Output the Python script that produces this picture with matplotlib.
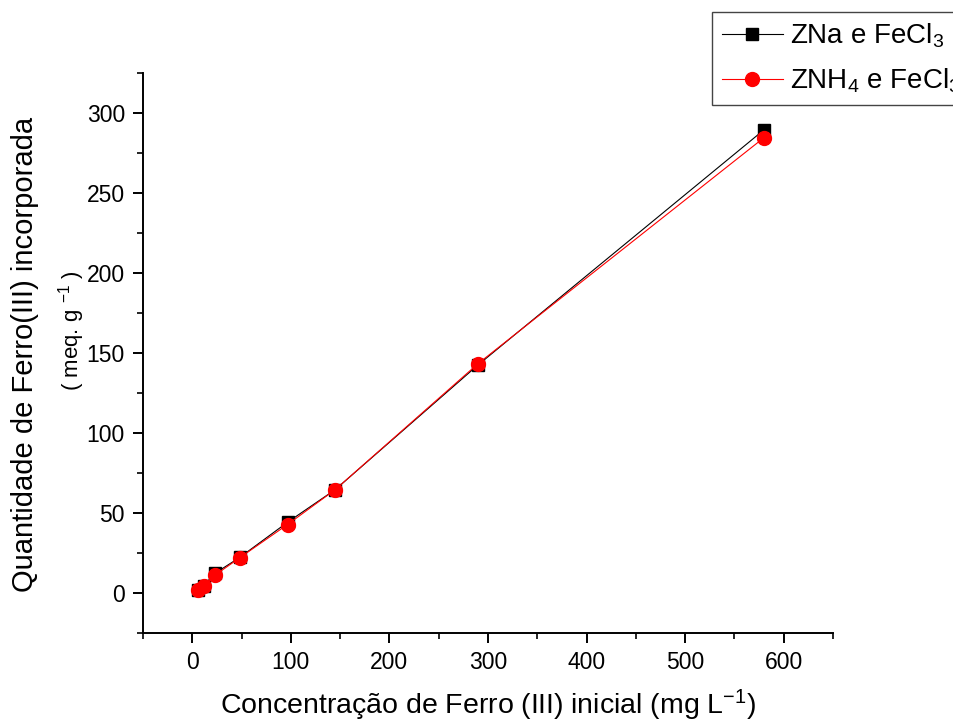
import numpy as np
import matplotlib.pyplot as plt
from matplotlib.ticker import MultipleLocator

plt.rcParams['font.family'] = ['Liberation Sans', 'DejaVu Sans']
plt.rcParams['mathtext.fontset'] = 'custom'
plt.rcParams['mathtext.rm'] = 'Liberation Sans'
plt.rcParams['mathtext.it'] = 'Liberation Sans'

conc = [5.8, 11.6, 23.2, 48.3, 96.6, 145, 290, 580]
zna = [2.0, 4.6, 12.4, 22.3, 44.2, 64.6, 142.6, 289.5]
znh4 = [2.0, 4.4, 11.2, 22.1, 42.8, 64.6, 143.4, 284.6]

fig = plt.figure(figsize=(9.54, 7.24), dpi=100)
ax = fig.add_axes([143 / 954, 1 - 633 / 724, (833 - 143) / 954, (633 - 73) / 724])

ax.plot(conc, zna, color='black', lw=0.8, marker='s', markersize=9,
        label=r'ZNa e FeCl$_3$')
ax.plot(conc, znh4, color='red', lw=0.8, marker='o', markersize=10,
        label=r'ZNH$_4$ e FeCl$_3$')

ax.set_xlim(-50, 650)
ax.set_ylim(-25, 325)
ax.xaxis.set_major_locator(MultipleLocator(100))
ax.xaxis.set_minor_locator(MultipleLocator(50))
ax.yaxis.set_major_locator(MultipleLocator(50))
ax.yaxis.set_minor_locator(MultipleLocator(25))
ax.tick_params(which='major', direction='out', length=7, width=1.4, labelsize=16.5, pad=6)
ax.tick_params(which='minor', direction='out', length=4, width=1.2)
ax.spines['top'].set_visible(False)
ax.spines['right'].set_visible(False)
ax.spines['left'].set_linewidth(1.4)
ax.spines['bottom'].set_linewidth(1.4)

ax.set_xlabel(r'Concentração de Ferro (III) inicial (mg L$^{-1}$)', fontsize=20.5, labelpad=10)
fig.text(25 / 954, 1 - 354 / 724, 'Quantidade de Ferro(III) incorporada',
         rotation=90, fontsize=21, ha='center', va='center')
fig.text(72 / 954, 1 - 331 / 724, r'( meq. g $^{-1}$ )',
         rotation=90, fontsize=16, ha='center', va='center')

leg = fig.legend(loc='upper left', bbox_to_anchor=(712 / 954, 1 - 12 / 724),
                 fontsize=20, fancybox=False, framealpha=1, edgecolor='#444444',
                 handlelength=2.2, borderpad=0.35, labelspacing=0.6,
                 handletextpad=0.25, borderaxespad=0)
leg.get_frame().set_linewidth(1.0)

fig.savefig('out.png', dpi=100)
